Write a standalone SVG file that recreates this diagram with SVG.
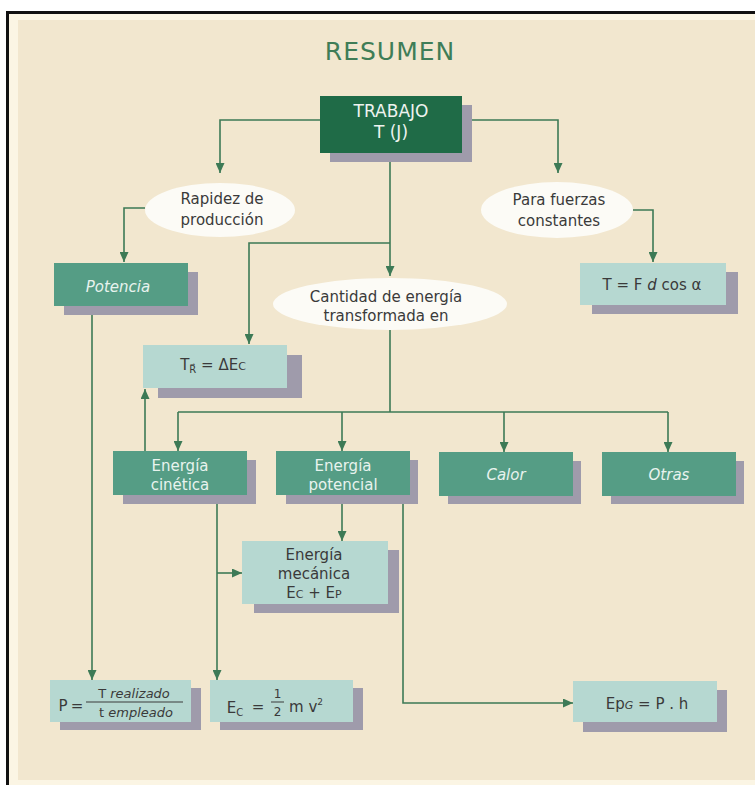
<svg xmlns="http://www.w3.org/2000/svg" width="755" height="785" viewBox="0 0 755 785" font-size="15">
<defs>
<marker id="arr" markerUnits="userSpaceOnUse" markerWidth="10" markerHeight="9" refX="10" refY="4.5" orient="auto">
<path d="M0,0 L10,4.5 L0,9 z" fill="#3d7a56"/>
</marker>
</defs>
<style>
.bg{fill:#f2e7cf}
.sh{fill:#9f9bab}
.mid{fill:#559d85}
.lt{fill:#b6d8d1}
.dk{fill:#1f6b47}
.ell{fill:#fcfbf6}
.c{fill:none;stroke:#3d7a56;stroke-width:1.6}
.ca{fill:none;stroke:#3d7a56;stroke-width:1.6;marker-end:url(#arr)}
text{font-family:"DejaVu Sans","Liberation Sans",sans-serif;text-anchor:middle}
.tw{fill:#e8f3ee}
.td{fill:#3a3a3a}
.it{font-style:italic}
</style>
<rect x="0" y="0" width="755" height="785" fill="#ffffff"/>
<rect x="8" y="12" width="747" height="773" fill="#fbf5e4"/>
<rect x="18" y="20" width="737" height="760" class="bg"/>
<path d="M7.5,785 V12.5 H755" fill="none" stroke="#111" stroke-width="3"/>
<text x="390" y="60" font-size="25" fill="#3f7d57" letter-spacing="1">RESUMEN</text>

<g id="connectors">
<path class="ca" d="M320,120 H220 V173"/>
<path class="ca" d="M462,120 H558 V173"/>
<path class="ca" d="M390,153 V276"/>
<path class="ca" d="M390,243 H249 V344"/>
<path class="ca" d="M145,208 H124 V262"/>
<path class="ca" d="M633,210 H653 V262"/>
<path class="c" d="M390,330 V412"/>
<path class="c" d="M178,412 H668"/>
<path class="ca" d="M178,412 V451"/>
<path class="ca" d="M342,412 V451"/>
<path class="ca" d="M504,412 V452"/>
<path class="ca" d="M668,412 V452"/>
<path class="ca" d="M145,451 V389"/>
<path class="ca" d="M342,495 V541"/>
<path class="ca" d="M217,495 V680"/>
<path class="ca" d="M217,573 H242"/>
<path class="ca" d="M92,306 V680"/>
<path class="ca" d="M403,495 V703 H573"/>
</g>

<g id="trabajo">
<rect x="330" y="105" width="142" height="57" class="sh"/>
<rect x="320" y="96" width="142" height="57" class="dk"/>
<text x="391" y="117" font-size="17" fill="#eef3ef">TRABAJO</text>
<text x="391" y="138" font-size="17" fill="#eef3ef">T (J)</text>
</g>

<g id="rapidez">
<ellipse cx="220" cy="210" rx="75" ry="27" class="ell"/>
<text x="222" y="204" class="td">Rapidez de</text>
<text x="222" y="225" class="td">producción</text>
</g>

<g id="fuerzas">
<ellipse cx="557" cy="210" rx="76" ry="28" class="ell"/>
<text x="559" y="205" class="td">Para fuerzas</text>
<text x="559" y="226" class="td">constantes</text>
</g>

<g id="cantidad">
<ellipse cx="390" cy="304" rx="117" ry="26" class="ell"/>
<text x="386" y="302" class="td">Cantidad de energía</text>
<text x="386" y="321" class="td">transformada en</text>
</g>

<g id="potencia">
<rect x="64" y="272" width="134" height="43" class="sh"/>
<rect x="54" y="263" width="134" height="43" class="mid"/>
<text x="118" y="292" class="tw it">Potencia</text>
</g>

<g id="tfd">
<rect x="592" y="272" width="146" height="42" class="sh"/>
<rect x="580" y="263" width="146" height="42" class="lt"/>
<text x="652" y="290" class="td">T = F <tspan class="it">d</tspan> cos α</text>
</g>

<g id="tr">
<rect x="158" y="355" width="144" height="43" class="sh"/>
<rect x="143" y="345" width="144" height="43" class="lt"/>
<text x="213" y="370" class="td">T<tspan font-size="10" dy="3">R⃗</tspan><tspan dy="-3"> = ΔE</tspan><tspan font-size="11">C</tspan></text>
</g>

<g id="cinetica">
<rect x="123" y="460" width="133" height="44" class="sh"/>
<rect x="113" y="451" width="134" height="44" class="mid"/>
<text x="180" y="471" class="tw">Energía</text>
<text x="180" y="490" class="tw">cinética</text>
</g>

<g id="potencial">
<rect x="286" y="460" width="132" height="44" class="sh"/>
<rect x="276" y="451" width="134" height="44" class="mid"/>
<text x="343" y="471" class="tw">Energía</text>
<text x="343" y="490" class="tw">potencial</text>
</g>

<g id="calor">
<rect x="448" y="461" width="133" height="43" class="sh"/>
<rect x="439" y="452" width="134" height="44" class="mid"/>
<text x="506" y="480" class="tw it">Calor</text>
</g>

<g id="otras">
<rect x="611" y="461" width="133" height="43" class="sh"/>
<rect x="602" y="452" width="134" height="44" class="mid"/>
<text x="669" y="480" class="tw it">Otras</text>
</g>

<g id="mecanica">
<rect x="254" y="550" width="145" height="63" class="sh"/>
<rect x="242" y="541" width="146" height="63" class="lt"/>
<text x="314" y="560" class="td">Energía</text>
<text x="314" y="579" class="td">mecánica</text>
<text x="314" y="598" class="td">E<tspan font-size="11">C</tspan> + E<tspan font-size="11">P</tspan></text>
</g>

<g id="pformula">
<rect x="60" y="688" width="141" height="42" class="sh"/>
<rect x="50" y="680" width="141" height="42" class="lt"/>
<text x="63" y="711" class="td">P</text>
<text x="77" y="711" class="td">=</text>
<line x1="86" y1="702" x2="183" y2="702" stroke="#3a3a3a" stroke-width="1"/>
<text x="134" y="698" font-size="13" class="td"><tspan>T</tspan><tspan class="it"> realizado</tspan></text>
<text x="136" y="717" font-size="13" class="td"><tspan>t</tspan><tspan class="it"> empleado</tspan></text>
</g>

<g id="ecformula">
<rect x="220" y="688" width="143" height="42" class="sh"/>
<rect x="210" y="680" width="143" height="42" class="lt"/>
<text x="235" y="713" class="td">E<tspan font-size="10" dy="3">C</tspan></text>
<text x="258" y="712" class="td">=</text>
<line x1="271" y1="702" x2="284" y2="702" stroke="#3a3a3a" stroke-width="1"/>
<text x="277.5" y="698" font-size="12" class="td">1</text>
<text x="277.5" y="716" font-size="12" class="td">2</text>
<text x="306" y="712" class="td">m v<tspan font-size="9" dy="-7">2</tspan></text>
</g>

<g id="epg">
<rect x="583" y="690" width="144" height="42" class="sh"/>
<rect x="573" y="681" width="144" height="41" class="lt"/>
<text x="647" y="709" class="td">Ep<tspan font-size="11" class="it">G</tspan> = P . h</text>
</g>
</svg>
